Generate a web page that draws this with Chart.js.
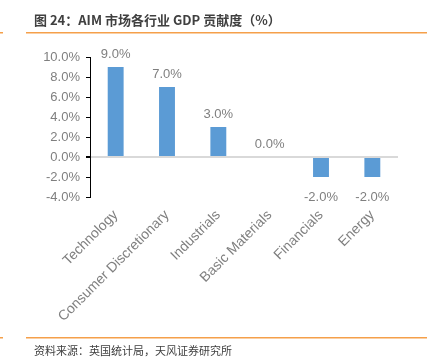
<!DOCTYPE html>
<html><head><meta charset="utf-8">
<script src="https://cdn.jsdelivr.net/npm/chart.js@4.4.0/dist/chart.umd.min.js"></script>
<style>html,body{margin:0;padding:0;background:#fff}#w{position:relative;width:432px;height:359px}</style>
</head><body><div id="w"><canvas id="c" width="432" height="359"></canvas></div>
<script>
const titleText = "图 24：AIM 市场各行业 GDP 贡献度（%）";
const sourceText = "资料来源：英国统计局，天风证券研究所";
const categories = ["Technology","Consumer Discretionary","Industrials","Basic Materials","Financials","Energy"];
const values = [9.0, 7.0, 3.0, 0.0, -2.0, -2.0];
const yMin = -4, yMax = 10, yStep = 2;

const GRAY = "#7f7f7f";
const FONT = "'Liberation Sans Narrow','Liberation Sans',Arial,sans-serif";
const XFONT = "'Liberation Sans',Arial,sans-serif";

const decor = {
  id: "decor",
  afterDraw(chart) {
    const ctx = chart.ctx;
    ctx.save();
    ctx.fillStyle = "#f5a04a";
    ctx.fillRect(26, 32, 401, 1.5);
    ctx.fillRect(0, 32, 3, 1.5);
    ctx.fillRect(26, 337, 401, 1.5);
    ctx.fillRect(0, 337, 3, 1.5);
    ctx.fillStyle = "#404040";
    ctx.font = "bold 13px 'Noto Sans CJK SC','Noto Sans',sans-serif";
    ctx.textBaseline = "middle";
    ctx.textAlign = "left";
    ctx.fillText(titleText, 34, 20);
    ctx.font = "11px 'Noto Sans CJK SC','Noto Sans',sans-serif";
    ctx.fillText(sourceText, 34, 351);
    // data labels
    const meta = chart.getDatasetMeta(0);
    ctx.fillStyle = GRAY;
    ctx.font = "13px " + FONT;
    ctx.textAlign = "center";
    ctx.textBaseline = "alphabetic";
    meta.data.forEach((bar, i) => {
      const v = values[i];
      const txt = v.toFixed(1) + "%";
      if (v >= 0) {
        ctx.fillText(txt, bar.x, bar.y - 9);
      } else {
        ctx.fillText(txt, bar.x, bar.y + 24);
      }
    });
    ctx.restore();
  }
};

new Chart(document.getElementById("c"), {
  type: "bar",
  data: { labels: categories, datasets: [{ data: values, backgroundColor: "#5b9bd5", borderWidth: 0, barPercentage: 0.31, categoryPercentage: 1 }] },
  options: {
    responsive: false, animation: false, devicePixelRatio: 1,
    layout: { padding: { left: 0, right: 34, top: 57, bottom: 0 } },
    plugins: { legend: { display: false }, tooltip: { enabled: false } },
    scales: {
      x: {
        afterFit(s) { s.height = 162; },
        grid: { display: false },
        border: { display: false },
        ticks: { color: GRAY, font: { size: 14, family: XFONT }, minRotation: 45, maxRotation: 45, padding: 2 }
      },
      y: {
        min: yMin, max: yMax,
        afterFit(s) { s.width = 90; },
        border: { display: true, color: "#000", width: 1 },
        grid: {
          drawOnChartArea: true,
          color: (c) => (c.tick && c.tick.value === 0 ? "#d9d9d9" : "rgba(0,0,0,0)"),
          lineWidth: (c) => (c.tick && c.tick.value === 0 ? 2 : 1),
          tickColor: "#000", tickLength: 4
        },
        ticks: { stepSize: yStep, color: GRAY, font: { size: 13, family: FONT }, padding: 6, callback: v => v.toFixed(1) + "%" }
      }
    }
  },
  plugins: [decor]
});
</script></body></html>
